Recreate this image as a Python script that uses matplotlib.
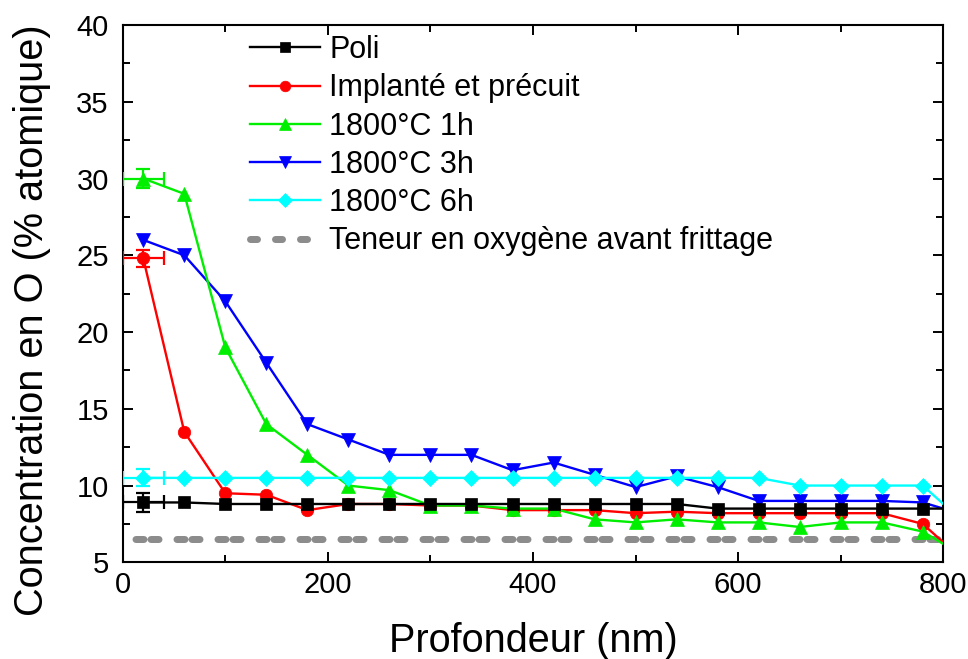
import matplotlib
matplotlib.use("Agg")
import matplotlib.pyplot as plt
from matplotlib.lines import Line2D
from matplotlib.ticker import MultipleLocator

plt.rcParams['font.family'] = ['Liberation Sans', 'DejaVu Sans']
plt.rcParams['lines.scale_dashes'] = False

# ---- data ----
depth = [20, 60, 100, 140, 180, 220, 260, 300, 340, 380, 420, 460, 500,
         540, 580, 620, 660, 700, 740, 780, 800]
poli = [8.9, 8.9, 8.8, 8.8, 8.8, 8.8, 8.8, 8.8, 8.8, 8.8, 8.8, 8.8, 8.8,
        8.8, 8.5, 8.5, 8.5, 8.5, 8.5, 8.5, 8.5]
implante = [24.8, 13.5, 9.5, 9.4, 8.4, 8.8, 8.8, 8.7, 8.7, 8.4, 8.4, 8.4, 8.2,
            8.3, 8.2, 8.2, 8.2, 8.2, 8.2, 7.5, 6.3]
h1 = [30.0, 29.0, 19.0, 14.0, 12.0, 10.0, 9.7, 8.7, 8.7, 8.5, 8.5, 7.8, 7.6,
      7.8, 7.6, 7.6, 7.3, 7.6, 7.6, 7.0, 6.2]
h3 = [26.0, 25.0, 22.0, 18.0, 14.0, 13.0, 12.0, 12.0, 12.0, 11.0, 11.5, 10.7, 9.9,
      10.6, 9.9, 9.0, 9.0, 9.0, 9.0, 8.9, 8.5]
h6 = [10.5, 10.5, 10.5, 10.5, 10.5, 10.5, 10.5, 10.5, 10.5, 10.5, 10.5, 10.5, 10.5,
      10.5, 10.5, 10.5, 10.0, 10.0, 10.0, 10.0, 8.8]
labels = ["Poli", "Implanté et précuit", "1800°C 1h", "1800°C 3h", "1800°C 6h",
          "Teneur en oxygène avant frittage"]
ref_x = [0, 800]
ref_y = [6.5, 6.5]
# error bars on first point: (x, y, xerr, yerr)
err_poli = (20, 8.9, 20, 0.6)
err_impl = (20, 24.8, 20, 0.55)
err_h1 = (20, 30.0, 20, 0.6)
err_h6 = (20, 10.5, 20, 0.55)

# ---- styles ----
c_poli, c_impl, c_h1, c_h3, c_h6 = 'black', '#FF0000', '#00EE00', '#0000FF', '#00FFFF'
grey = '#8C8C8C'

fig = plt.figure(figsize=(9.68, 6.59), dpi=100)
ax = fig.add_axes([0.1268, 0.1467, 0.8477, 0.8154])

# reference dashed line (pairs of round dashes)
px = 0.72  # points per pixel
ax.plot(ref_x, ref_y, color=grey, lw=7 * px, dash_capstyle='round',
        linestyle=(28.5 * px, (8 * px, 7 * px, 8 * px, 18 * px)), zorder=1)

mev = list(range(len(depth) - 1))
series = [
    (h3, c_h3, 'v', 10.5, 2),
    (implante, c_impl, 'o', 9, 3),
    (h1, c_h1, '^', 10.5, 4),
    (h6, c_h6, 'D', 8.5, 5),
    (poli, c_poli, 's', 8, 6),
]
handles = {}
for ys, c, m, ms, z in series:
    ln, = ax.plot(depth, ys, color=c, lw=1.7, marker=m, ms=ms, mec=c, mew=0.5,
                  markevery=mev, zorder=z)
    handles[c] = ln

for (x, y, xe, ye), c, z in [(err_poli, c_poli, 6), (err_impl, c_impl, 3),
                             (err_h1, c_h1, 4), (err_h6, c_h6, 5)]:
    ax.errorbar([x], [y], xerr=[xe], yerr=[ye], fmt='none', ecolor=c,
                elinewidth=1.6, capsize=5, capthick=1.6, zorder=z)

ax.set_xlim(0, 800)
ax.set_ylim(5, 40)
ax.xaxis.set_major_locator(MultipleLocator(200))
ax.xaxis.set_minor_locator(MultipleLocator(100))
ax.yaxis.set_major_locator(MultipleLocator(5))
ax.yaxis.set_minor_locator(MultipleLocator(2.5))
ax.tick_params(which='both', direction='in', top=True, right=True, width=1.4,
               labelsize=21)
ax.tick_params(axis='x', which='both', pad=6)
ax.tick_params(axis='y', which='both', pad=10)
ax.tick_params(which='major', length=7.5)
ax.tick_params(which='minor', length=5)
for s in ax.spines.values():
    s.set_linewidth(1.5)

ax.set_xlabel("Profondeur (nm)", fontsize=28.5, labelpad=17)
ax.set_ylabel("Concentration en O (% atomique)", fontsize=28.6)
ax.yaxis.set_label_coords(-0.0874, 0.451)

leg_handles = [handles[c_poli], handles[c_impl], handles[c_h1], handles[c_h3],
               handles[c_h6],
               Line2D([], [], color=grey, lw=7 * px, dash_capstyle='round',
                      linestyle=(0, (7 * px, 18 * px)))]
leg = ax.legend(leg_handles, labels, loc='upper left',
                bbox_to_anchor=(0.1546, 0.981), frameon=False, fontsize=22,
                handlelength=2.32, handletextpad=0.28, labelspacing=0.27,
                borderpad=0, borderaxespad=0, markerscale=0.85)

fig.savefig("out.png", dpi=100)
